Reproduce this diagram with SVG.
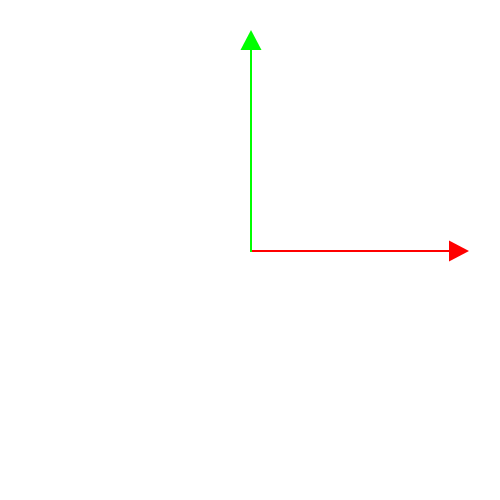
<svg xmlns="http://www.w3.org/2000/svg" width="500" height="500" viewBox="0 0 500 500">
<style>.ax{stroke-width:2;fill:none}</style>
<rect width="500" height="500" fill="#ffffff"/>
<g id="connectors">
<g id="x-axis">
<line class="ax" x1="250" y1="251" x2="450" y2="251" stroke="#ff0000"/>
<polygon points="449,240.5 469,251 449,261.5" fill="#ff0000"/>
</g>
<g id="y-axis">
<line class="ax" x1="251" y1="252" x2="251" y2="49" stroke="#00ff00"/>
<polygon points="240.5,50 251,30 261.5,50" fill="#00ff00"/>
</g>
</g>
</svg>
